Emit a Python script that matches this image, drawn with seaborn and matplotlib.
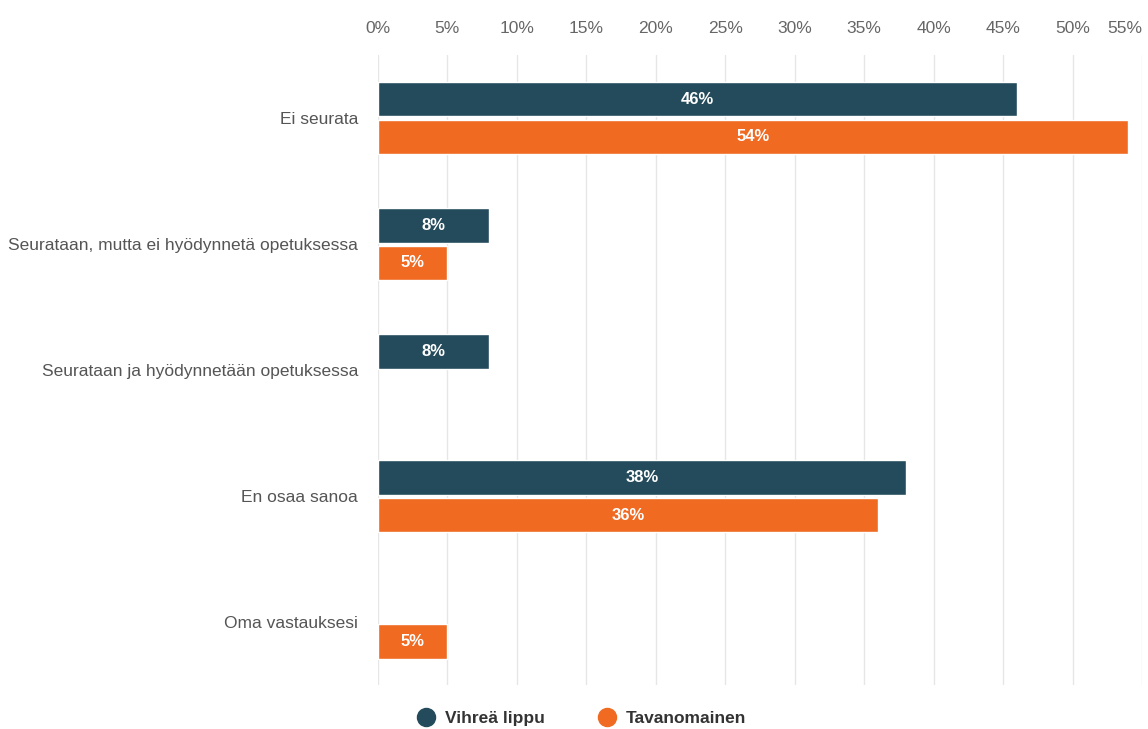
import pandas as pd
import matplotlib.pyplot as plt
import seaborn as sns
import numpy as np
from matplotlib.lines import Line2D

categories = ['Ei seurata', 'Seurataan, mutta ei hyödynnetä opetuksessa',
              'Seurataan ja hyödynnetään opetuksessa', 'En osaa sanoa', 'Oma vastauksesi']
series = ['Vihreä lippu', 'Tavanomainen']
vihrea = [46, 8, 8, 38, np.nan]
tavanomainen = [54, 5, np.nan, 36, 5]
ticks = list(range(0, 60, 5))
colors = ['#234b5b', '#f06a22']

df = pd.DataFrame({
    'Vastaus': categories * 2,
    'Ryhmä': [series[0]] * 5 + [series[1]] * 5,
    'Osuus': vihrea + tavanomainen,
})

sns.set_style('white')
plt.rcParams['font.family'] = ['Liberation Sans', 'DejaVu Sans']

fig = plt.figure(figsize=(11.48, 7.29), dpi=100)
ax = fig.add_axes([0.329, 0.06, 0.666, 0.8646])

sns.barplot(data=df, y='Vastaus', x='Osuus', hue='Ryhmä', order=categories,
            hue_order=series, palette=colors, orient='h', width=0.6, gap=0.08,
            legend=False, ax=ax, saturation=1)

# value labels inside bars
for container in ax.containers:
    labels = ['' if np.isnan(v) else f'{v:.0f}%' for v in container.datavalues]
    ax.bar_label(container, labels=labels, label_type='center', color='white',
                 fontsize=12, fontweight='bold')

ax.set_xlim(0, 55)
ax.set_ylim(4.5, -0.5)
ax.set_xticks(ticks)
ax.set_xticklabels([f'{t}%' for t in ticks])
ax.xaxis.tick_top()
ax.tick_params(axis='x', length=0, pad=14, labelsize=12.5, labelcolor='#666666')
ax.tick_params(axis='y', length=0, pad=14, labelsize=12.5, labelcolor='#555555')
ax.get_xticklabels()[-1].set_horizontalalignment('right')
ax.grid(axis='x', color='#e6e6e6', linewidth=1)
ax.set_axisbelow(True)
for s in ax.spines.values():
    s.set_visible(False)
ax.set_xlabel('')
ax.set_ylabel('')

handles = [Line2D([0], [0], marker='o', linestyle='', markersize=13,
                  markerfacecolor=c, markeredgecolor=c) for c in colors]
leg = fig.legend(handles, series, loc='center', bbox_to_anchor=(0.503, 0.015),
                 ncol=2, frameon=False, columnspacing=2.6, handletextpad=0.1,
                 prop={'size': 12.5, 'weight': 'bold'})
for t in leg.get_texts():
    t.set_color('#333333')

plt.savefig('out.png', dpi=100)
plt.close()
